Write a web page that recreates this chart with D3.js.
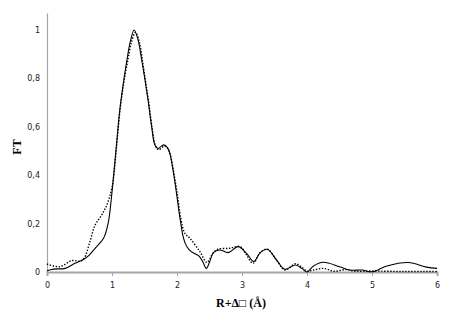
<!DOCTYPE html>
<html>
<head>
<meta charset="utf-8">
<script src="https://cdn.jsdelivr.net/npm/d3@7"></script>
<style>
  body { margin: 0; background: #fff; }
  .tick text { font-family: "DejaVu Sans", sans-serif; font-size: 8px; fill: #1a1a2e; }
  .axis-title { font-family: "Liberation Serif", serif; font-weight: bold; font-size: 12px; fill: #000; }
</style>
</head>
<body>
<svg id="chart"></svg>
<script>
// experimental FT magnitude (solid)
const expR = [0, 0.1, 0.28, 0.43, 0.56, 0.65, 0.74, 0.87, 0.94, 1.0, 1.06, 1.12, 1.18, 1.23, 1.28, 1.34, 1.40, 1.457, 1.51, 1.56, 1.61, 1.66, 1.71, 1.76, 1.80, 1.85, 1.89, 1.94, 1.99, 2.05, 2.10, 2.15, 2.22, 2.34, 2.40, 2.45, 2.50, 2.56, 2.66, 2.79, 2.94, 3.07, 3.18, 3.28, 3.39, 3.53, 3.66, 3.82, 3.92, 4.0, 4.1, 4.25, 4.5, 4.66, 4.85, 5.0, 5.23, 5.56, 5.84, 6.0];
const expFT = [0.005, 0.012, 0.015, 0.036, 0.052, 0.07, 0.098, 0.139, 0.2, 0.33, 0.5, 0.67, 0.79, 0.876, 0.95, 1.0, 0.96, 0.876, 0.79, 0.70, 0.6, 0.525, 0.51, 0.52, 0.525, 0.515, 0.49, 0.42, 0.33, 0.215, 0.14, 0.105, 0.084, 0.066, 0.04, 0.015, 0.04, 0.08, 0.091, 0.08, 0.105, 0.077, 0.043, 0.08, 0.094, 0.05, 0.011, 0.029, 0.015, 0.0, 0.025, 0.04, 0.022, 0.008, 0.008, 0.001, 0.025, 0.039, 0.02, 0.015];

// fitted FT magnitude (dotted)
const fitR = [0, 0.2, 0.38, 0.51, 0.57, 0.66, 0.74, 0.84, 0.92, 1.0, 1.06, 1.12, 1.18, 1.24, 1.30, 1.36, 1.42, 1.47, 1.52, 1.57, 1.62, 1.67, 1.72, 1.77, 1.81, 1.86, 1.90, 1.95, 2.0, 2.06, 2.12, 2.20, 2.35, 2.46, 2.56, 2.63, 2.81, 2.97, 3.07, 3.17, 3.28, 3.39, 3.53, 3.66, 3.82, 3.92, 4.0, 4.1, 4.25, 4.42, 4.6, 4.75, 5.0, 5.5, 6.0];
const fitFT = [0.033, 0.022, 0.047, 0.045, 0.056, 0.125, 0.194, 0.235, 0.277, 0.35, 0.49, 0.66, 0.78, 0.87, 0.95, 0.99, 0.95, 0.87, 0.78, 0.69, 0.59, 0.52, 0.505, 0.515, 0.52, 0.51, 0.48, 0.41, 0.33, 0.22, 0.16, 0.139, 0.085, 0.04, 0.08, 0.094, 0.098, 0.105, 0.07, 0.036, 0.08, 0.094, 0.05, 0.008, 0.034, 0.02, 0.004, 0.008, 0.015, 0.003, 0.01, 0.003, 0.004, 0.002, 0.002];

const xTicks = [0, 1, 2, 3, 4, 5, 6];
const yTicks = [0, 0.2, 0.4, 0.6, 0.8, 1];

const width = 463, height = 327;
const margin = { top: 13, right: 26, bottom: 55, left: 47 };
const innerW = width - margin.left - margin.right;
const innerH = height - margin.top - margin.bottom;

const svg = d3.select('#chart')
  .attr('width', width)
  .attr('height', height);

const g = svg.append('g')
  .attr('transform', `translate(${margin.left},${margin.top})`);

const x = d3.scaleLinear().domain([0, 6]).range([0, innerW]);
const y = d3.scaleLinear().domain([0, 1.07]).range([innerH, 0]);

const fmt = d => String(d).replace('.', ',');

// y axis
const yAxisG = g.append('g')
  .call(d3.axisLeft(y).tickValues(yTicks).tickSize(0).tickPadding(7).tickFormat(fmt));
yAxisG.select('.domain').attr('stroke', '#a6a6a6').attr('stroke-width', 1.2);

// x axis
const xAxisG = g.append('g')
  .attr('transform', `translate(0,${innerH})`)
  .call(d3.axisBottom(x).tickValues(xTicks).tickSize(4).tickPadding(6).tickFormat(d => d));
xAxisG.select('.domain').attr('stroke', '#a6a6a6').attr('stroke-width', 2);
xAxisG.selectAll('.tick line').attr('stroke', '#a6a6a6');

const line = d3.line()
  .x(d => x(d[0]))
  .y(d => y(d[1]))
  .curve(d3.curveCatmullRom.alpha(0.5));

g.append('path')
  .datum(fitR.map((r, i) => [r, fitFT[i]]))
  .attr('fill', 'none')
  .attr('stroke', '#000')
  .attr('stroke-width', 1.4)
  .attr('stroke-dasharray', '1.4,1.6')
  .attr('d', line);

g.append('path')
  .datum(expR.map((r, i) => [r, expFT[i]]))
  .attr('fill', 'none')
  .attr('stroke', '#000')
  .attr('stroke-width', 1.1)
  .attr('d', line);

// axis titles
svg.append('text')
  .attr('class', 'axis-title')
  .attr('x', 241)
  .attr('y', 307)
  .attr('text-anchor', 'middle')
  .text('R+Δ\u25A1 (Å)');

svg.append('text')
  .attr('class', 'axis-title')
  .attr('transform', 'translate(21,147) rotate(-90)')
  .attr('text-anchor', 'middle')
  .text('FT');
</script>
</body>
</html>
